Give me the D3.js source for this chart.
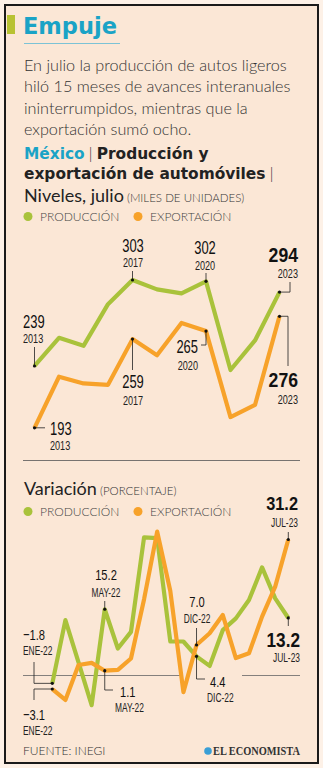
<!DOCTYPE html>
<html><head><meta charset="utf-8">
<script src="https://cdn.jsdelivr.net/npm/d3@7"></script>
<style>
html,body{margin:0;padding:0;background:#fdf1e7;}
svg{display:block;}
.num{font-family:"Liberation Sans",Arial,sans-serif;}
.txt{font-family:Lato,"Open Sans",sans-serif;}
.hv{font-family:"DejaVu Sans",sans-serif;}
</style></head>
<body>
<svg id="c" width="323" height="768"></svg>
<script>
// ---------- DATA ----------
const years = ["2013","2014","2015","2016","2017","2018","2019","2020","2021","2022","2023"];
const prodLevels = [239,260,254,285,303,296,293,302,236,258,294];
const expLevels  = [193,231,226,225,259,247,271,265,201,210,276];

const months = ["ENE-22","FEB-22","MAR-22","ABR-22","MAY-22","JUN-22","JUL-22","AGO-22","SEP-22","OCT-22","NOV-22","DIC-22",
                "ENE-23","FEB-23","MAR-23","ABR-23","MAY-23","JUN-23","JUL-23"];
const prodVar = [-1.8,12.7,3.0,-6.8,15.2,6.2,10.0,31.7,31.5,7.8,7.8,4.4,2.2,10.4,13.1,17.3,24.8,17.7,13.2];
const expVar  = [-3.1,-5.6,2.4,2.9,1.1,1.3,3.9,17.5,33.0,19.4,-3.8,7.0,9.7,13.9,4.0,5.1,13.5,20.4,31.2];

const bodyLines = ["En julio la producción de autos ligeros",
                   "hiló 15 meses de avances interanuales",
                   "ininterrumpidos, mientras que la",
                   "exportación sumó ocho."];
const legendLabels = ["PRODUCCIÓN","EXPORTACIÓN"];

// ---------- STYLE ----------
const BG = "#fbe7d6", TEAL = "#1aa3c6", GREEN = "#a9c23b", ORANGE = "#f7a22a", INK = "#222";
const svg = d3.select("#c");

svg.append("rect").attr("x",5).attr("y",5).attr("width",313).attr("height",758)
  .attr("fill",BG).attr("stroke","#1a1a1a").attr("stroke-width",2);

// Title
svg.append("rect").attr("x",7).attr("y",15).attr("width",8).attr("height",19).attr("fill","#b8c232");
svg.append("text").attr("class","hv").attr("x",23).attr("y",34)
  .attr("font-size",22.5).attr("font-weight",700).attr("fill",TEAL).text("Empuje");
svg.append("line").attr("x1",24).attr("x2",120).attr("y1",43.5).attr("y2",43.5)
  .attr("stroke","#7cc3d6").attr("stroke-width",1);

svg.selectAll("text.body").data(bodyLines).join("text").attr("class","txt body")
  .attr("x",24).attr("y",(d,i)=>71+i*21.3).attr("font-size",16.2).attr("font-weight",300)
  .attr("fill","#333").text(d=>d);

// Subtitle
const st1 = svg.append("text").attr("class","hv").attr("x",24).attr("y",159).attr("font-size",15.4).attr("font-weight",700);
st1.append("tspan").attr("fill",TEAL).text("México");
st1.append("tspan").attr("fill",INK).attr("font-weight",300).attr("class","txt").text(" | ");
st1.append("tspan").attr("fill",INK).text("Producción y");
const st2 = svg.append("text").attr("class","hv").attr("x",24).attr("y",179).attr("font-size",15.4).attr("font-weight",700);
st2.append("tspan").attr("fill",INK).text("exportación de automóviles");
st2.append("tspan").attr("fill",INK).attr("font-weight",300).attr("class","txt").text(" |");

function sectionHead(y, main, sub){
  const t = svg.append("text").attr("class","txt").attr("x",24).attr("y",y).attr("fill",INK);
  t.append("tspan").attr("font-size",18).attr("font-weight",400).text(main);
  t.append("tspan").attr("font-size",11.5).attr("font-weight",300).attr("fill","#333").text(" " + sub);
}
function legend(y){
  const xs = [28,138];
  legendLabels.forEach((l,i)=>{
    svg.append("circle").attr("cx",xs[i]).attr("cy",y-4.5).attr("r",4.5).attr("fill",i?ORANGE:GREEN);
    svg.append("text").attr("class","txt").attr("x",xs[i]+12).attr("y",y).attr("font-size",12)
      .attr("font-weight",300).attr("fill","#444").text(l);
  });
}
sectionHead(202,"Niveles, julio","(MILES DE UNIDADES)");
legend(221);

// ---------- TOP CHART ----------
const xT = d3.scalePoint().domain(years).range([34.5,279.5]);
const yT = d3.scaleLinear().domain([193,303]).range([427.8,280]);
const lineT = v => d3.line().x((d,i)=>xT(years[i])).y(d=>yT(d))(v);

svg.append("line").attr("x1",23).attr("x2",300).attr("y1",460.5).attr("y2",460.5).attr("stroke","#555").attr("stroke-width",0.8);
svg.append("path").attr("d",lineT(prodLevels)).attr("fill","none").attr("stroke",GREEN).attr("stroke-width",4.2).attr("stroke-linejoin","round");
svg.append("path").attr("d",lineT(expLevels)).attr("fill","none").attr("stroke",ORANGE).attr("stroke-width",4.2).attr("stroke-linejoin","round");

// ---------- BOTTOM SECTION ----------
sectionHead(495,"Variación","(PORCENTAJE)");
legend(516);

const xB = d3.scalePoint().domain(months).range([52.3,288.3]);
const yB = d3.scaleLinear().domain([0,31.2]).range([675.5,539.5]);
const lineB = v => d3.line().x((d,i)=>xB(months[i])).y(d=>yB(d))(v);

svg.append("line").attr("x1",23).attr("x2",300).attr("y1",yB(0)).attr("y2",yB(0)).attr("stroke","#666").attr("stroke-width",0.8);
svg.append("rect").attr("x",180).attr("y",yB(0)-3).attr("width",62).attr("height",6).attr("fill",BG);

svg.append("path").attr("d",lineB(prodVar)).attr("fill","none").attr("stroke",GREEN).attr("stroke-width",4.2).attr("stroke-linejoin","round");
svg.append("path").attr("d",lineB(expVar)).attr("fill","none").attr("stroke",ORANGE).attr("stroke-width",4.2).attr("stroke-linejoin","round");

// ---------- ANNOTATIONS ----------
function ctext(x,y,anchor,size,weight,sx,fill,str){
  svg.append("text").attr("class","num").attr("transform",`translate(${x},${y}) scale(${sx},1)`)
    .attr("text-anchor",anchor).attr("font-size",size).attr("font-weight",weight).attr("fill",fill).text(str);
}
function annot(px,py,val,sub,o){
  const pts = [[px,py]].concat(o.leader.map(p=>[p[0]===null?px:p[0], p[1]===null?py:p[1]]));
  svg.append("path").attr("d",d3.line()(pts)).attr("fill","none").attr("stroke","#222").attr("stroke-width",0.8);
  svg.append("circle").attr("cx",px).attr("cy",py).attr("r",1.6).attr("fill","#111");
  ctext(o.x,o.y,o.anchor,o.big,o.bold?700:400,o.bold?0.86:0.72,"#111",val);
  ctext(o.sx===undefined?o.x:o.sx,o.y+o.gap,o.anchor,o.small,400,0.7,"#222",sub);
}
const fmt = d3.format(".1f");
// top
annot(xT("2013"),yT(prodLevels[0]),prodLevels[0],"2013",{x:23,y:328,anchor:"start",big:18,small:13,gap:15,leader:[[null,347]]});
annot(xT("2017"),yT(prodLevels[4]),prodLevels[4],"2017",{x:133,y:252,anchor:"middle",big:18,small:13,gap:15,leader:[[null,271]]});
annot(xT("2020"),yT(prodLevels[7]),prodLevels[7],"2020",{x:205,y:254,anchor:"middle",big:18,small:13,gap:16,leader:[[null,273]]});
annot(xT("2023"),yT(prodLevels[10]),prodLevels[10],"2023",{x:298,y:262,anchor:"end",big:20.5,small:13,gap:16,bold:true,leader:[[290,null],[290,282]]});
annot(xT("2013"),yT(expLevels[0]),expLevels[0],"2013",{x:50,y:435,anchor:"start",big:18,small:13,gap:15,leader:[[45,null]]});
annot(xT("2017"),yT(expLevels[4]),expLevels[4],"2017",{x:133,y:388,anchor:"middle",big:18,small:13,gap:17,leader:[[null,370]]});
annot(xT("2020"),yT(expLevels[7]),expLevels[7],"2020",{x:198,y:353,anchor:"end",big:18,small:13,gap:17,leader:[[null,345],[201,345]]});
annot(xT("2023"),yT(expLevels[10]),expLevels[10],"2023",{x:298,y:387,anchor:"end",big:20.5,small:13,gap:17,bold:true,leader:[[288,null],[288,366]]});
// bottom
annot(xB("ENE-22"),yB(prodVar[0]),fmt(prodVar[0]),"ENE-22",{x:23,y:640,anchor:"start",big:15.5,small:12,gap:15,leader:[[34,null],[34,662]]});
annot(xB("ENE-22"),yB(expVar[0]),fmt(expVar[0]),"ENE-22",{x:23,y:720,anchor:"start",big:15.5,small:12,gap:15,leader:[[34,null],[34,700]]});
annot(xB("MAY-22"),yB(prodVar[4]),fmt(prodVar[4]),"MAY-22",{x:106,y:580,anchor:"middle",big:15.5,small:12,gap:17,leader:[[null,601]]});
annot(xB("MAY-22"),yB(expVar[4]),fmt(expVar[4]),"MAY-22",{x:120,y:697,anchor:"start",sx:115,big:15.5,small:12,gap:15,leader:[[null,690],[113,690]]});
annot(xB("DIC-22"),yB(expVar[11]),fmt(expVar[11]),"DIC-22",{x:197,y:607,anchor:"middle",big:15.5,small:12,gap:16,leader:[[null,628]]});
annot(xB("DIC-22"),yB(prodVar[11]),fmt(prodVar[11]),"DIC-22",{x:210,y:687,anchor:"start",sx:207,big:15.5,small:12,gap:15,leader:[[null,679],[205,679]]});
annot(xB("JUL-23"),yB(expVar[18]),fmt(expVar[18]),"JUL-23",{x:298,y:510,anchor:"end",big:19,small:12,gap:17,bold:true,leader:[[null,532]]});
annot(xB("JUL-23"),yB(prodVar[18]),fmt(prodVar[18]),"JUL-23",{x:300,y:647,anchor:"end",big:20,small:12,gap:15,bold:true,leader:[[null,626]]});

// ---------- FOOTER ----------
svg.append("text").attr("class","txt").attr("x",23).attr("y",755).attr("font-size",12).attr("font-weight",300)
  .attr("fill","#333").text("FUENTE: INEGI");
svg.append("circle").attr("cx",208).attr("cy",751).attr("r",3.8).attr("fill","#3a9fd6");
svg.append("text").attr("x",213).attr("y",755).attr("textLength",87).attr("lengthAdjust","spacingAndGlyphs")
  .attr("font-family","'Liberation Serif','DejaVu Serif',serif")
  .attr("font-size",11.5).attr("font-weight",700).attr("fill","#333").text("EL ECONOMISTA");
</script>
</body></html>
